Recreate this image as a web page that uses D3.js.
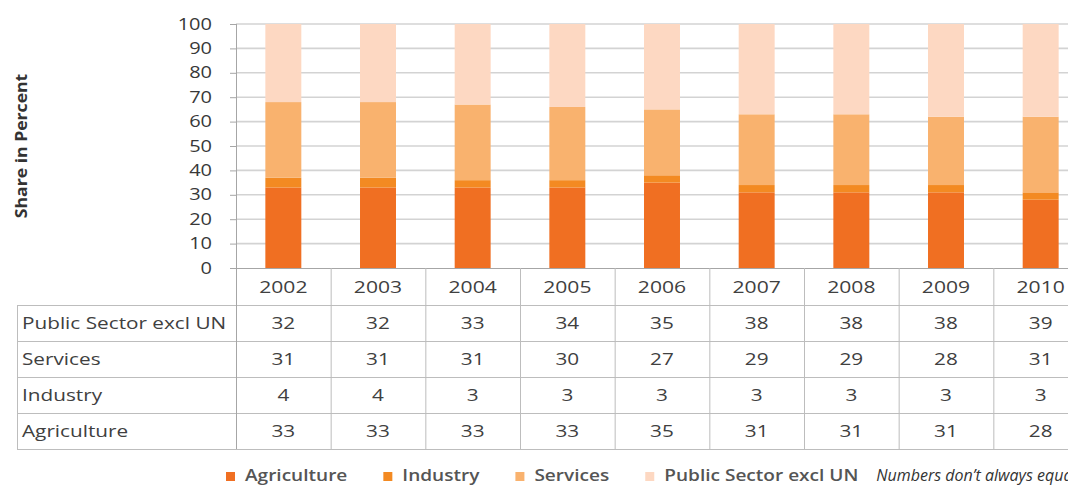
<!DOCTYPE html>
<html>
<head>
<meta charset="utf-8">
<script src="https://cdn.jsdelivr.net/npm/d3@7"></script>
<style>
  html, body { margin: 0; padding: 0; background: #fff; }
  svg { display: block; font-family: "Open Sans", sans-serif; }
</style>
</head>
<body>
<svg id="chart" width="1068" height="486"></svg>
<script>
// ---- data ----
const years = ["2002", "2003", "2004", "2005", "2006", "2007", "2008", "2009", "2010"];
const agriculture = [33, 33, 33, 33, 35, 31, 31, 31, 28];
const industry = [4, 4, 3, 3, 3, 3, 3, 3, 3];
const services = [31, 31, 31, 30, 27, 29, 29, 28, 31];
const publicSector = [32, 32, 33, 34, 35, 38, 38, 38, 39];
const seriesNames = ["Agriculture", "Industry", "Services", "Public Sector excl UN"];
const yTicks = [0, 10, 20, 30, 40, 50, 60, 70, 80, 90, 100];
const yTitle = "Share in Percent";
const note = "Numbers don\u2019t always equal 100 due to rounding";

// ---- styles ----
const colors = ["#F06F22", "#F38A22", "#F9B26E", "#FDD8C2"];
const textColor = "#404040";
const gridColor = "#d3d3d3";
const borderColor = "#bdbdbd";

const svg = d3.select("#chart");

function stretch(sel, k) {
  sel.each(function () {
    const w = this.getComputedTextLength();
    this.setAttribute("textLength", w * k);
    this.setAttribute("lengthAdjust", "spacingAndGlyphs");
  });
}

// ---- build table for stacking ----
const seriesValues = [agriculture, industry, services, publicSector];
const rows = years.map((y, i) => {
  const r = { year: y };
  seriesNames.forEach((s, j) => (r[s] = seriesValues[j][i]));
  return r;
});
const stacked = d3.stack().keys(seriesNames)(rows);

// ---- scales ----
const plotLeft = 236, plotRight = 1088, plotTop = 24, plotBottom = 268;
const x = d3.scaleBand().domain(years).range([plotLeft, plotRight])
  .paddingInner(0.62).paddingOuter(0.31);
const xCell = d3.scaleBand().domain(years).range([plotLeft, plotRight]);
const y = d3.scaleLinear().domain([0, 100]).range([plotBottom, plotTop]).clamp(true);
const colorScale = d3.scaleOrdinal().domain(seriesNames).range(colors);

// ---- gridlines ----
svg.append("g").selectAll("line").data(yTicks.filter(d => d > 0)).join("line")
  .attr("x1", plotLeft).attr("x2", 1068)
  .attr("y1", d => y(d)).attr("y2", d => y(d))
  .attr("stroke", gridColor).attr("stroke-width", 1.6);

// ---- bars ----
svg.append("g").selectAll("g").data(stacked).join("g")
  .attr("fill", d => colorScale(d.key))
  .selectAll("rect").data(d => d).join("rect")
  .attr("x", d => x(d.data.year))
  .attr("width", x.bandwidth())
  .attr("y", d => y(d[1]))
  .attr("height", d => y(d[0]) - y(d[1]));

// ---- y axis ----
const yAxis = svg.append("g").attr("transform", `translate(${plotLeft},0)`)
  .call(d3.axisLeft(y).tickValues(yTicks).tickSize(6).tickPadding(18));
yAxis.select(".domain").remove();
yAxis.selectAll(".tick line").attr("stroke", "#a6a6a6");
yAxis.selectAll(".tick text")
  .attr("fill", "#383838").style("font-size", "16px")
  .style("font-family", "'Open Sans', sans-serif");
stretch(yAxis.selectAll(".tick text"), 1.25);

// y axis title
const yt = svg.append("text")
  .attr("transform", "translate(27,146) rotate(-90)")
  .attr("text-anchor", "middle")
  .attr("fill", "#333")
  .style("font-size", "16px").style("font-weight", "700")
  .text(yTitle);
stretch(yt, 1.1);

// ---- data table ----
const tableRows = [
  { name: "Public Sector excl UN", values: publicSector },
  { name: "Services", values: services },
  { name: "Industry", values: industry },
  { name: "Agriculture", values: agriculture }
];
const rowH = 36;
const headerTop = plotBottom;
const bodyTop = headerTop + rowH + 1;
const labelLeft = 17;
const rowY = d3.scaleBand().domain(tableRows.map(r => r.name))
  .range([bodyTop, bodyTop + rowH * tableRows.length]);
const tableBottom = bodyTop + rowH * tableRows.length;

const tbl = svg.append("g");
tbl.append("line").attr("x1", plotLeft).attr("x2", 1068)
  .attr("y1", headerTop + 0.5).attr("y2", headerTop + 0.5)
  .attr("stroke", "#a6a6a6");
tbl.selectAll("line.h").data(d3.range(tableRows.length + 1)).join("line")
  .attr("class", "h")
  .attr("x1", labelLeft).attr("x2", 1068)
  .attr("y1", i => bodyTop + i * rowH + 0.5).attr("y2", i => bodyTop + i * rowH + 0.5)
  .attr("stroke", borderColor);
tbl.append("line").attr("x1", labelLeft + 0.5).attr("x2", labelLeft + 0.5)
  .attr("y1", bodyTop).attr("y2", tableBottom).attr("stroke", borderColor);
tbl.append("line").attr("x1", plotLeft + 0.5).attr("x2", plotLeft + 0.5)
  .attr("y1", plotTop).attr("y2", tableBottom).attr("stroke", "#a6a6a6");
tbl.selectAll("line.v").data(years).join("line")
  .attr("class", "v")
  .attr("x1", d => xCell(d) + xCell.bandwidth() + 0.5)
  .attr("x2", d => xCell(d) + xCell.bandwidth() + 0.5)
  .attr("y1", headerTop).attr("y2", tableBottom)
  .attr("stroke", borderColor);

// header years
const yearText = tbl.selectAll("text.year").data(years).join("text")
  .attr("class", "year")
  .attr("x", d => xCell(d) + xCell.bandwidth() / 2)
  .attr("y", headerTop + rowH / 2 + 1)
  .attr("dy", "0.35em")
  .attr("text-anchor", "middle")
  .attr("fill", textColor).style("font-size", "17px")
  .text(d => d);
stretch(yearText, 1.24);

// row labels
const labelText = tbl.selectAll("text.lab").data(tableRows).join("text")
  .attr("class", "lab")
  .attr("x", labelLeft + 5)
  .attr("y", d => rowY(d.name) + rowH / 2)
  .attr("dy", "0.35em")
  .attr("fill", textColor).style("font-size", "17px")
  .text(d => d.name);
stretch(labelText, 1.22);

// cell values
tableRows.forEach(r => {
  const t = tbl.append("g").selectAll("text").data(r.values).join("text")
    .attr("x", (d, i) => xCell(years[i]) + xCell.bandwidth() / 2)
    .attr("y", rowY(r.name) + rowH / 2)
    .attr("dy", "0.35em")
    .attr("text-anchor", "middle")
    .attr("fill", textColor).style("font-size", "17px")
    .text(d => d);
  stretch(t, 1.22);
});

// ---- legend ----
const legend = svg.append("g");
let lx = 226;
const legendBase = 481;
seriesNames.forEach((name, i) => {
  legend.append("rect")
    .attr("x", lx).attr("y", legendBase - 9)
    .attr("width", 9).attr("height", 9)
    .attr("fill", colors[i]);
  const t = legend.append("text")
    .attr("x", lx + 19).attr("y", legendBase)
    .attr("fill", "#555").style("font-size", "17px").style("font-weight", "600")
    .text(name);
  stretch(t, 1.12);
  lx = lx + 19 + +t.attr("textLength") + 36;
});
legend.append("text")
  .attr("x", lx - 18).attr("y", legendBase)
  .attr("fill", "#333").style("font-size", "16px").style("font-style", "italic")
  .text(note);
</script>
</body>
</html>
